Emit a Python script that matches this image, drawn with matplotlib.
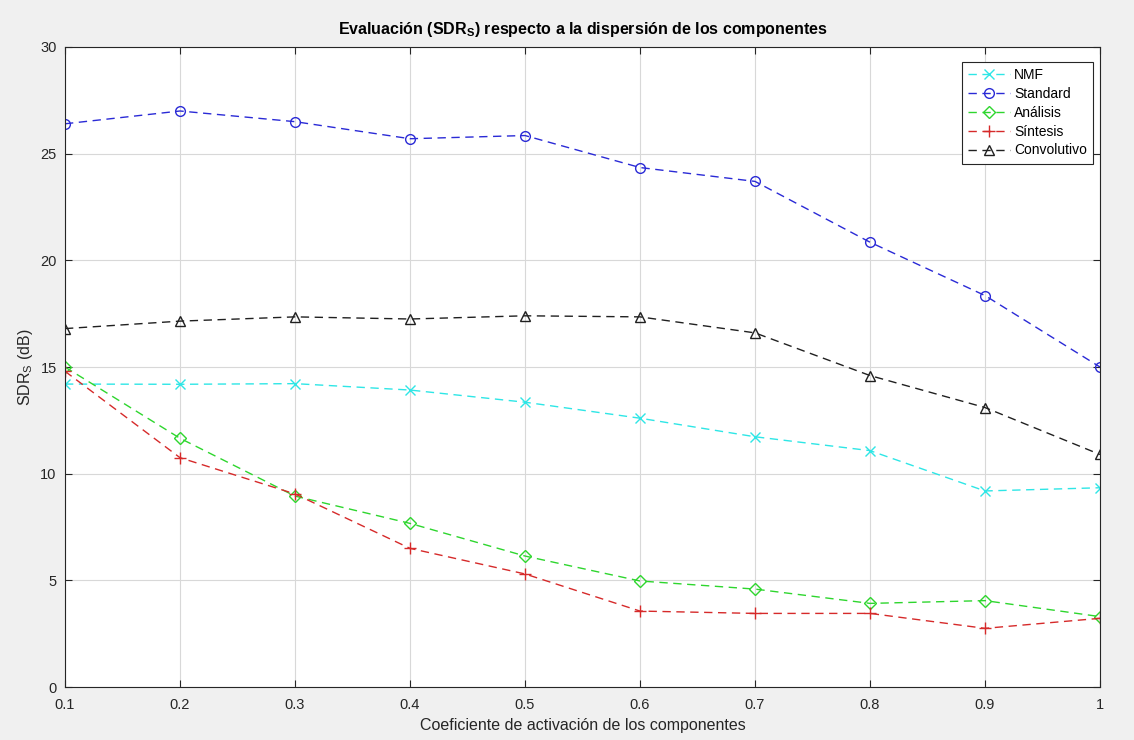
import matplotlib
matplotlib.use("Agg")
import matplotlib.pyplot as plt

x = [0.1, 0.2, 0.3, 0.4, 0.5, 0.6, 0.7, 0.8, 0.9, 1.0]
nmf = [14.2, 14.19, 14.22, 13.92, 13.35, 12.6, 11.73, 11.08, 9.19, 9.34]
standard = [26.4, 27.0, 26.5, 25.7, 25.85, 24.35, 23.7, 20.85, 18.35, 15.0]
analisis = [15.0, 11.66, 8.95, 7.67, 6.14, 4.97, 4.59, 3.92, 4.05, 3.3]
sintesis = [14.8, 10.75, 9.05, 6.5, 5.3, 3.56, 3.45, 3.45, 2.75, 3.22]
convolutivo = [16.8, 17.15, 17.35, 17.25, 17.4, 17.35, 16.6, 14.6, 13.1, 10.9]

labels = ["NMF", "Standard", "Análisis", "Síntesis", "Convolutivo"]
series = [nmf, standard, analisis, sintesis, convolutivo]
colors = ["#2ee6e6", "#2a2ad6", "#2ed62e", "#d62a2a", "#202020"]
markers = ["x", "o", "D", "+", "^"]
msizes = [7, 7, 6, 8, 7]

plt.rcParams['font.family'] = ['Liberation Sans', 'DejaVu Sans']

fig = plt.figure(figsize=(11.34, 7.4), dpi=100, facecolor="#f0f0f0")
ax = fig.add_axes([0.0573, 0.0716, 0.9127, 0.8649])
ax.set_facecolor("white")

for s, lab, c, m, ms in zip(series, labels, colors, markers, msizes):
    ax.plot(x, s, linestyle=(0, (6, 4)), color=c, marker=m, markersize=ms,
            markerfacecolor="none", markeredgecolor=c, markeredgewidth=1.0,
            linewidth=1.0, label=lab)

ax.set_xlim(0.1, 1.0)
ax.set_ylim(0, 30)
ax.set_xticks(x)
ax.set_xticklabels(["0.1", "0.2", "0.3", "0.4", "0.5", "0.6", "0.7", "0.8", "0.9", "1"])
ax.set_yticks([0, 5, 10, 15, 20, 25, 30])
ax.grid(True, color="#d8d8d8", linewidth=0.8)
ax.set_axisbelow(True)
ax.tick_params(direction="in", top=True, right=True, labelsize=10.5,
               colors="#262626", length=5)
ax.tick_params(axis="x", pad=8)
ax.tick_params(axis="y", pad=6)
for sp in ax.spines.values():
    sp.set_color("#262626")
    sp.set_linewidth(0.8)

ax.set_title("Evaluación (SDR$_\\mathregular{S}$) respecto a la dispersión de los componentes",
             fontsize=11.5, fontweight="bold", pad=9)
ax.set_xlabel("Coeficiente de activación de los componentes", fontsize=11.5,
              color="#262626", labelpad=4)
ax.set_ylabel("SDR$_\\mathregular{S}$ (dB)", fontsize=11.5, color="#262626")

leg = ax.legend(loc="upper right", bbox_to_anchor=(0.9935, 0.977), fontsize=10,
                fancybox=False, framealpha=1, edgecolor="#262626",
                handlelength=3.0, borderpad=0.45, labelspacing=0.35,
                handletextpad=0.3, borderaxespad=0)
leg.get_frame().set_linewidth(0.8)

fig.savefig("out.png", dpi=100, facecolor=fig.get_facecolor())
